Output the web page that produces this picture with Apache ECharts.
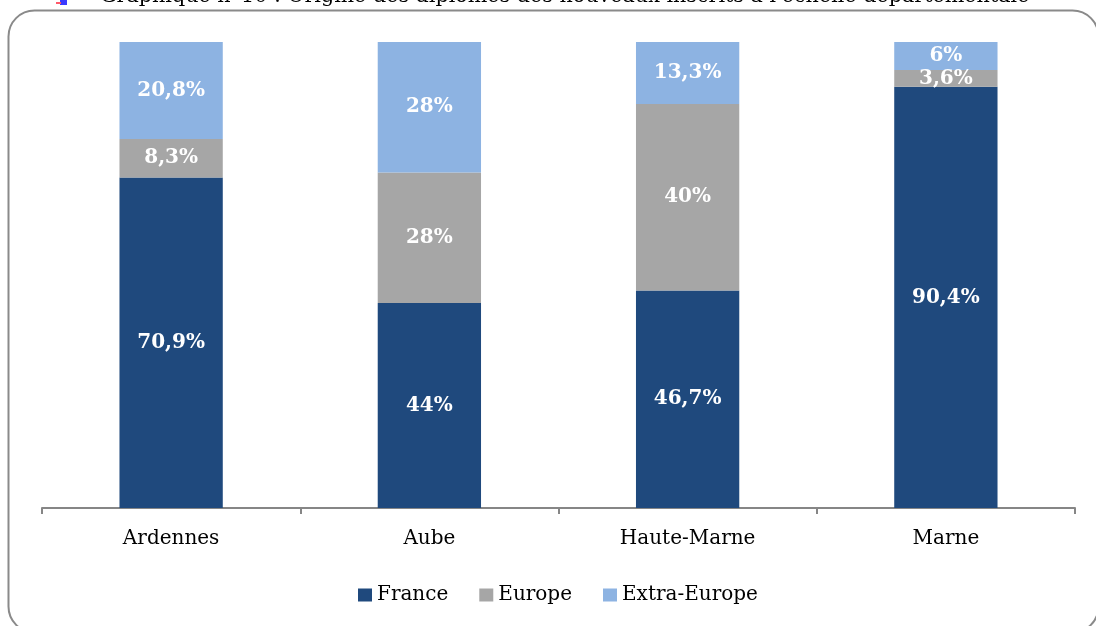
<!DOCTYPE html>
<html>
<head>
<meta charset="utf-8">
<script src="https://cdn.jsdelivr.net/npm/echarts@6/dist/echarts.min.js"></script>
<style>
html,body{margin:0;padding:0;background:#fff;}
#c{width:1096px;height:626px;}
</style>
</head>
<body>
<div id="c"></div>
<script>
var categories = ['Ardennes', 'Aube', 'Haute-Marne', 'Marne'];
var seriesNames = ['France', 'Europe', 'Extra-Europe'];
var franceValues = [70.9, 44, 46.7, 90.4];
var europeValues = [8.3, 28, 40, 3.6];
var extraEuropeValues = [20.8, 28, 13.3, 6];
var titleText = "Graphique n°10 : Origine des diplômes des nouveaux inscrits à l'échelle départementale";

var colors = ['#1F497D', '#A6A6A6', '#8DB3E2'];
var serif = '"DejaVu Serif", "Liberation Serif", serif';

function fmt(p) {
  return String(p.value).replace('.', ',') + '%';
}

function mkSeries(name, data, color) {
  return {
    name: name,
    type: 'bar',
    stack: 'total',
    barWidth: '40%',
    data: data,
    itemStyle: { color: color },
    label: {
      show: true,
      position: 'inside',
      formatter: fmt,
      color: '#fff',
      fontFamily: serif,
      fontWeight: 'bold',
      fontSize: 20
    },
    emphasis: { disabled: true }
  };
}

var chart = echarts.init(document.getElementById('c'), null, { renderer: 'canvas' });
chart.setOption({
  animation: false,
  color: colors,
  graphic: [
    {
      type: 'rect',
      shape: { x: 8.5, y: 10.5, width: 1090, height: 622, r: 26 },
      style: { fill: 'none', stroke: '#8a8a8a', lineWidth: 2 },
      z: 0
    },
    {
      type: 'text',
      left: 100,
      top: -14,
      style: { text: titleText, font: '20.7px ' + serif, fill: '#000' }
    },
    {
      type: 'rect',
      shape: { x: 60, y: 0, width: 7, height: 5 },
      style: { fill: '#3a3aff' }
    },
    {
      type: 'rect',
      shape: { x: 56, y: 2, width: 5, height: 2 },
      style: { fill: '#ff5a6a' }
    }
  ],
  grid: { left: 42, right: 21, top: 42, bottom: 118, containLabel: false },
  xAxis: {
    type: 'category',
    data: categories,
    boundaryGap: true,
    axisLine: { show: true, lineStyle: { color: '#868686', width: 2 } },
    axisTick: { show: true, length: 6, lineStyle: { color: '#868686', width: 2 } },
    axisLabel: { color: '#000', fontFamily: serif, fontSize: 20, margin: 21 }
  },
  yAxis: {
    type: 'value',
    min: 0,
    max: 100,
    show: false,
    splitLine: { show: false }
  },
  legend: {
    data: seriesNames,
    bottom: 16,
    left: 353,
    icon: 'rect',
    itemWidth: 14,
    itemHeight: 13,
    itemGap: 31,
    textStyle: { fontFamily: serif, fontSize: 20, color: '#000', padding: [0, 0, 0, 0] },
    selectedMode: false
  },
  series: [
    mkSeries(seriesNames[0], franceValues, colors[0]),
    mkSeries(seriesNames[1], europeValues, colors[1]),
    mkSeries(seriesNames[2], extraEuropeValues, colors[2])
  ]
});
</script>
</body>
</html>
